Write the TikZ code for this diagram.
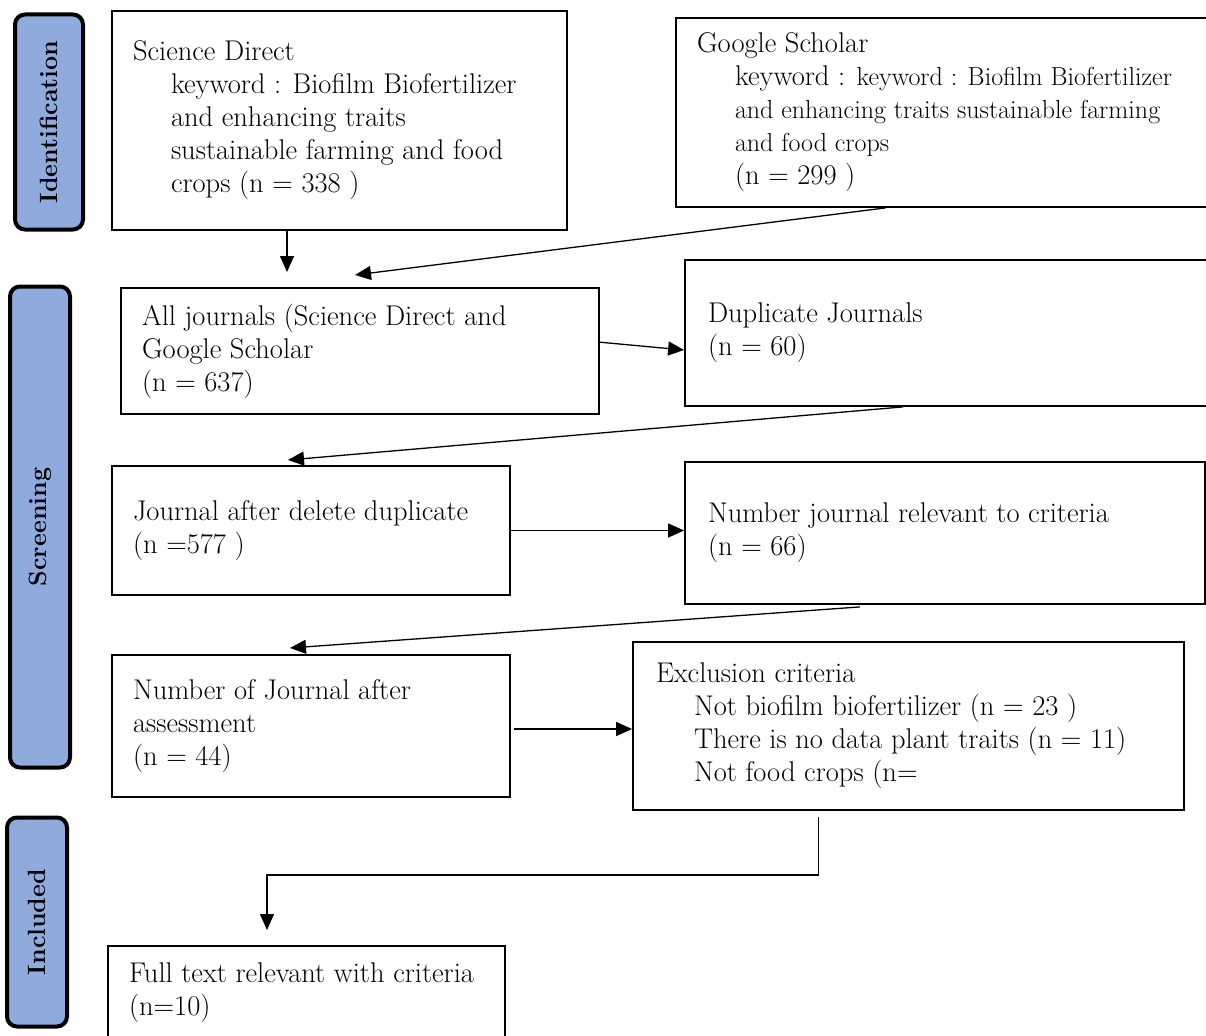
\documentclass[tikz,border=0pt]{standalone}
\usepackage{fontspec}
\usetikzlibrary{positioning, calc, arrows.meta}
\definecolor{stagefill}{HTML}{8FAADC}
\newcommand{\ind}{\hspace*{38pt}}
\newcommand{\smalltxt}{\fontsize{26}{30}\selectfont}
\tikzset{
  box/.style={draw, line width=1.8pt, align=flush left, inner xsep=21pt, inner ysep=0pt,
    font=\fontsize{28.5}{33}\selectfont},
  stage/.style={draw, line width=4pt, rounded corners=10pt, fill=stagefill},
  stagetext/.style={rotate=90, font=\fontsize{25}{28}\selectfont\bfseries},
  arr/.style={-{Triangle[length=16pt,width=14pt]}, line width=1.3pt},
}
\begin{document}
\begin{tikzpicture}[x=1pt,y=-1pt]
  \useasboundingbox (0,0) rectangle (1206,1035);
  % stages
  \node[stage, minimum width=68pt, minimum height=215pt] (ident) at (49,122) {};
  \node[stagetext] at (ident.center) {Identification};
  \node[stage, minimum width=60pt, minimum height=481pt] (screen) at (40,527) {};
  \node[stagetext] at (screen.center) {Screening};
  \node[stage, minimum width=60pt, minimum height=209pt] (incl) at (37,922) {};
  \node[stagetext] at (incl.center) {Included};
  % boxes
  \node[box, text width=413pt, minimum height=219pt] (sd) at (339.5,120.5)
    {Science Direct\\ \ind keyword : Biofilm Biofertilizer\\ \ind and enhancing traits\\
     \ind sustainable farming and food\\ \ind crops (n = 338 )};
  \node[box, text width=497pt, minimum height=189pt] (gs) at (945.5,112.5)
    {Google Scholar\\ \ind keyword : {\smalltxt keyword : Biofilm Biofertilizer}\\
     \ind{\smalltxt and enhancing traits sustainable farming}\\
     \ind{\smalltxt and food crops}\\ \ind (n = 299 )};
  \node[box, text width=436pt, minimum height=126pt] (all) at (360,351)
    {All journals (Science Direct and\\ Google Scholar\\ (n = 637)};
  \node[box, inner xsep=23pt, text width=484pt, minimum height=146pt] (dup) at (950,333)
    {Duplicate Journals\\ (n = 60)};
  \node[box, text width=356pt, minimum height=129pt] (jad) at (311,530.5)
    {Journal after delete duplicate\\ (n =577 )};
  \node[box, inner xsep=23pt, text width=474pt, minimum height=142pt] (njr) at (945,533)
    {Number journal relevant to criteria\\ (n = 66)};
  \node[box, text width=356pt, minimum height=142pt] (nja) at (311,726)
    {Number of Journal after\\ assessment\\ (n = 44)};
  \node[box, inner xsep=23pt, text width=505pt, minimum height=168pt] (excl) at (908.5,726)
    {Exclusion criteria\\ \ind Not biofilm biofertilizer (n = 23 )\\
     \ind There is no data plant traits (n = 11)\\ \ind Not food crops (n=};
  \node[box, text width=355pt, minimum height=94pt] (full) at (306.5,993)
    {Full text relevant with criteria\\ (n=10)};
  % connectors
  \coordinate (a1) at (287,272);
  \coordinate (a2) at (355,275);
  \coordinate (a4) at (288,460);
  \coordinate (a6) at (290,648);
  \coordinate (a8) at (267,930);
  \draw[arr] (sd.south -| a1) -- (a1);
  \draw[arr] ([xshift=-60pt]gs.south) -- (a2);
  \draw[arr] ([yshift=9pt,xshift=-2pt]all.east) -- ([yshift=-17pt]dup.west);
  \draw[arr] ([xshift=-47pt]dup.south) -- (a4);
  \draw[arr] (jad.east) -- (jad.east -| njr.west);
  \draw[arr] ([xshift=-85pt,yshift=-2pt]njr.south) -- (a6);
  \draw[arr] ([xshift=3pt,yshift=-3pt]nja.east) -- ([yshift=-3pt]excl.west);
  \draw[arr] ([xshift=-90pt,yshift=-6pt]excl.south) -- ++(0,58) -| (a8);
\end{tikzpicture}
\end{document}
